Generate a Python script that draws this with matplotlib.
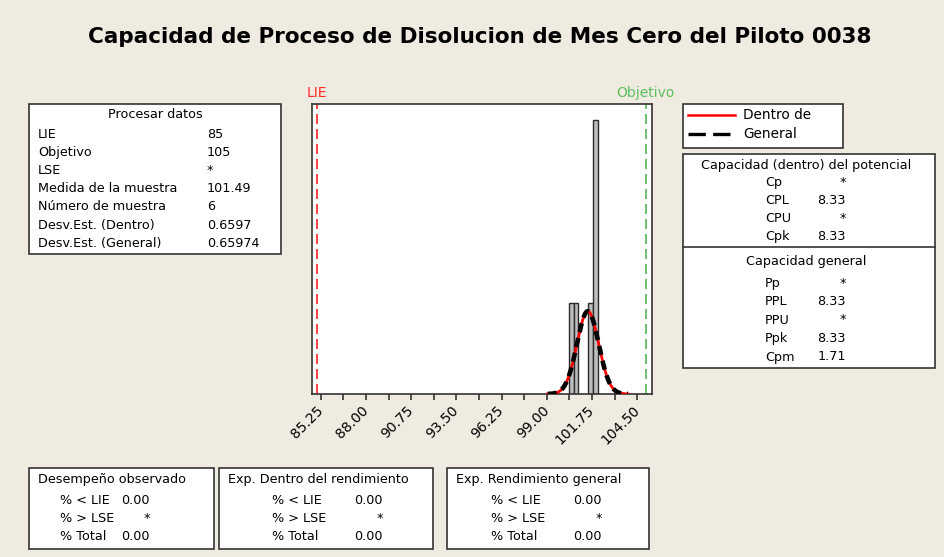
import numpy as np
import matplotlib
matplotlib.use("Agg")
import matplotlib.pyplot as plt
from matplotlib.patches import Rectangle
from matplotlib.lines import Line2D
from matplotlib.transforms import blended_transform_factory

W, H = 945, 557
BG = "#EFEBE1"
EDGE = "#333333"
FONT = "DejaVu Sans"

title = "Capacidad de Proceso de Disolucion de Mes Cero del Piloto 0038"
tick_labels = ["85.25", "88.00", "90.75", "93.50", "96.25", "99.00", "101.75", "104.50"]
minor_step = 1.375

lie = 85
objetivo = 105
mean = 101.49
n = 6
sd_within = 0.6597
sd_overall = 0.65974

# histogram classes (left edge, count)
bin_left = [100.34, 100.63, 101.53, 101.82]
bin_counts = [1, 1, 1, 3]
bin_width = 0.29
curve_bin = 0.25  # class width used to scale the fitted normal curves to counts

process_labels = ["LIE", "Objetivo", "LSE", "Medida de la muestra", "Número de muestra",
                  "Desv.Est. (Dentro)", "Desv.Est. (General)"]
process_values = ["85", "105", "*", "101.49", "6", "0.6597", "0.65974"]

within_labels = ["Cp", "CPL", "CPU", "Cpk"]
within_values = ["*", "8.33", "*", "8.33"]
overall_labels = ["Pp", "PPL", "PPU", "Ppk", "Cpm"]
overall_values = ["*", "8.33", "*", "8.33", "1.71"]

perf_titles = ["Desempeño observado", "Exp. Dentro del rendimiento", "Exp. Rendimiento general"]
perf_labels = ["% < LIE", "% > LSE", "% Total"]
perf_values = [["0.00", "*", "0.00"], ["0.00", "*", "0.00"], ["0.00", "*", "0.00"]]

plt.rcParams["font.family"] = [FONT]

fig = plt.figure(figsize=(W / 100, H / 100), dpi=100, facecolor=BG)

BOX_FS = 9.2


def fx(x):
    return x / W


def fy(y):
    return 1 - y / H


def box(x0, y0, x1, y1):
    fig.add_artist(Rectangle((fx(x0), fy(y1)), (x1 - x0) / W, (y1 - y0) / H,
                             transform=fig.transFigure, facecolor="white",
                             edgecolor=EDGE, lw=1.2, zorder=1))


def txt(x, y, s, ha="left", size=BOX_FS, **kw):
    fig.text(fx(x), fy(y), s, ha=ha, va="center", fontsize=size, color="black",
             zorder=3, **kw)


def hline(x0, x1, y):
    fig.add_artist(Line2D([fx(x0), fx(x1)], [fy(y), fy(y)], transform=fig.transFigure,
                          color=EDGE, lw=1.2, zorder=2))


# title
txt(480, 37, title, ha="center", size=15.5, fontweight="bold")

# main histogram axes
ax = fig.add_axes([311.7 / W, 1 - 394 / H, 340 / W, 290 / H])
ax.set_facecolor("white")
ax.set_xlim(84.7, 105.375)
ax.set_ylim(0, 3.176)

ax.bar(bin_left, bin_counts, width=bin_width, align="edge", color="#BDBDBD",
       edgecolor="#2A2A2A", lw=1, zorder=2)

xs = np.linspace(mean - 3.7 * sd_within, mean + 3.7 * sd_within, 400)
pdf_w = np.exp(-0.5 * ((xs - mean) / sd_within) ** 2) / (sd_within * np.sqrt(2 * np.pi))
pdf_o = np.exp(-0.5 * ((xs - mean) / sd_overall) ** 2) / (sd_overall * np.sqrt(2 * np.pi))
ax.plot(xs, n * curve_bin * pdf_w, color="#FF0000", lw=2, zorder=3)
ax.plot(xs, n * curve_bin * pdf_o, color="black", lw=3.3, ls=(0, (2, 1.3)), zorder=4)

ax.axvline(lie, color="#FF2222", lw=1.2, ls=(0, (6, 3)), zorder=1)
ax.axvline(objetivo, color="#55B855", lw=1.2, ls=(0, (6, 3)), zorder=1)

tr = blended_transform_factory(ax.transData, ax.transAxes)
ax.text(lie, 1.015, "LIE", transform=tr, ha="center", va="bottom", color="#FF2A2A",
        fontsize=10)
ax.text(objetivo, 1.015, "Objetivo", transform=tr, ha="center", va="bottom",
        color="#5CBF5C", fontsize=10)

major = [float(t) for t in tick_labels]
minor = [m + minor_step for m in major if m + minor_step < 105.375]
ax.set_xticks(major)
ax.set_xticklabels(tick_labels, rotation=45, ha="right", va="center",
                   rotation_mode="anchor", fontsize=10)
ax.set_xticks(minor, minor=True)
ax.tick_params(axis="x", which="both", direction="out", length=4, width=1.2,
               color=EDGE, pad=6)
ax.set_yticks([])
for s in ax.spines.values():
    s.set_color(EDGE)
    s.set_linewidth(1.2)

# process data box
box(29, 104, 281, 254)
txt(155, 115, "Procesar datos", ha="center")
for i, (lab, val) in enumerate(zip(process_labels, process_values)):
    y = 134 + i * 18.2
    txt(38, y, lab)
    txt(207, y, val)

# legend box
box(683, 104, 843, 148)
fig.add_artist(Line2D([fx(688), fx(735)], [fy(115), fy(115)], transform=fig.transFigure,
                      color="#FF0000", lw=1.8, zorder=2))
fig.add_artist(Line2D([fx(688), fx(731)], [fy(134), fy(134)], transform=fig.transFigure,
                      color="black", lw=2.4, ls=(0, (5.2, 2.2)), zorder=2))
txt(743, 115, "Dentro de", size=9.8)
txt(743, 134, "General", size=9.8)

# capability box
box(683, 154, 935, 368)
hline(683, 935, 247)
txt(806, 165, "Capacidad (dentro) del potencial", ha="center")
for i, (lab, val) in enumerate(zip(within_labels, within_values)):
    y = 182 + i * 18.3
    txt(765, y, lab)
    txt(846, y, val, ha="right")
txt(806, 262, "Capacidad general", ha="center")
for i, (lab, val) in enumerate(zip(overall_labels, overall_values)):
    y = 283 + i * 18.5
    txt(765, y, lab)
    txt(846, y, val, ha="right")

# performance boxes
perf_boxes = [(29, 214), (219, 433), (447, 649)]
perf_label_x = [60, 272, 491]
perf_value_x = [150, 383, 602]
for (x0, x1), title_s, lx, vx, vals in zip(perf_boxes, perf_titles, perf_label_x,
                                         perf_value_x, perf_values):
    box(x0, 468, x1, 549)
    txt(x0 + 9, 480, title_s)
    for j, (lab, val) in enumerate(zip(perf_labels, vals)):
        y = 500 + j * 18.5
        txt(lx, y, lab)
        txt(vx, y, val, ha="right")

fig.savefig("out.png", dpi=100, facecolor=BG)
